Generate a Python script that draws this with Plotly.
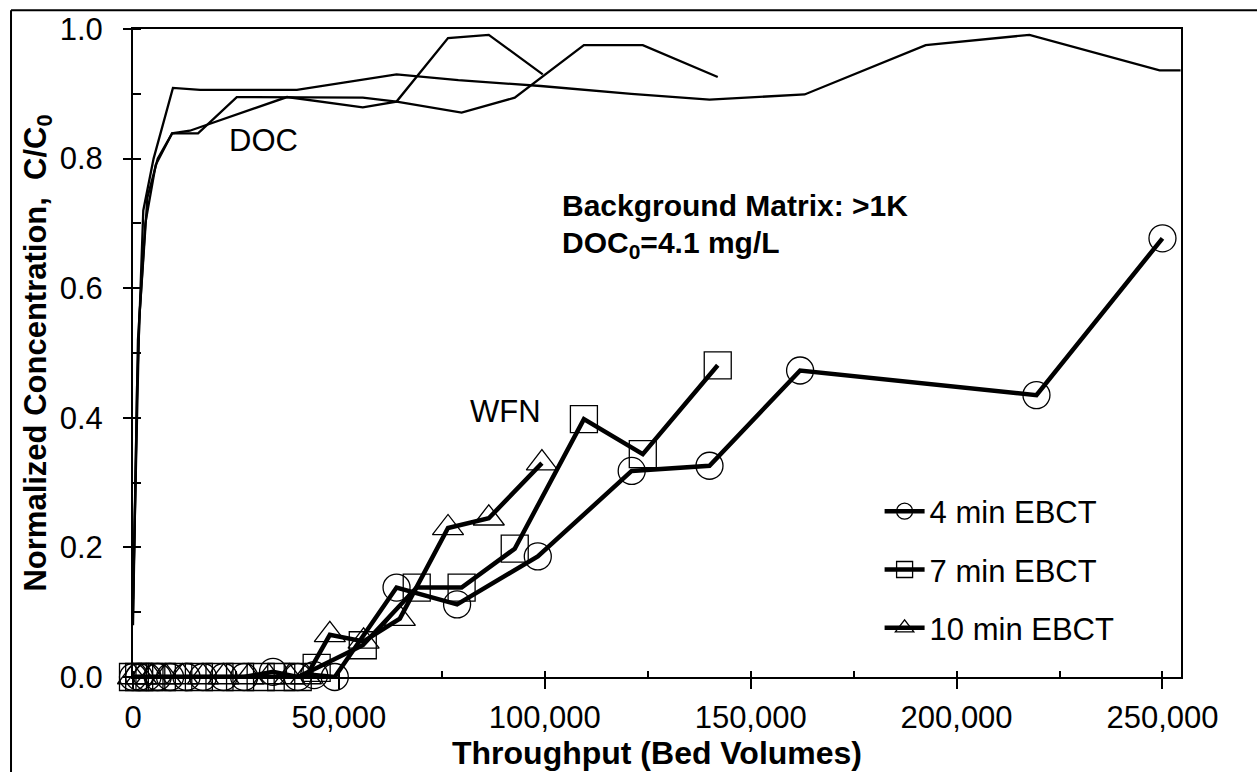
import plotly.graph_objects as go

# ---- WFN breakthrough (C/C0) for three empty-bed contact times ----
x_4min = [0, 1500, 3500, 6000, 9000, 13000, 17000, 22000, 27000, 34000, 40000, 44000, 49000,
          64000, 78700, 98300, 121100, 140000, 162000, 219400, 250000]
y_4min = [0, 0, 0, 0, 0, 0, 0, 0, 0, 0.008, 0, 0.003, 0,
          0.138, 0.112, 0.186, 0.318, 0.326, 0.473, 0.435, 0.677]

x_7min = [0, 1500, 4000, 7000, 11000, 16000, 21000, 26000, 31000, 36000, 40000, 44600,
          55800, 68900, 79800, 92700, 109500, 123800, 142000]
y_7min = [0, 0, 0, 0, 0, 0, 0, 0, 0, 0, 0, 0.014,
          0.049, 0.138, 0.138, 0.198, 0.398, 0.344, 0.481]

x_10min = [0, 2000, 4500, 8000, 12000, 17000, 22000, 28000, 33000, 38000, 42000,
           47800, 56000, 64800, 76500, 86400, 99300]
y_10min = [0, 0, 0, 0, 0, 0, 0, 0, 0, 0, 0,
           0.065, 0.055, 0.09, 0.23, 0.245, 0.33]

# ---- DOC breakthrough for the same columns ----
doc_x_4min = [0, 1000, 2500, 5000, 9700, 16300, 39800, 64000, 79000, 99000, 121000, 140000,
              163100, 192500, 217700, 249300, 254400]
doc_y_4min = [0.08, 0.45, 0.72, 0.80, 0.909, 0.906, 0.906, 0.930, 0.921, 0.912, 0.90, 0.891,
              0.899, 0.975, 0.991, 0.936, 0.936]

doc_x_7min = [0, 1200, 3000, 5500, 9500, 15800, 25200, 55800, 64000, 79800, 92700, 109500,
              123800, 142000]
doc_y_7min = [0.10, 0.52, 0.70, 0.79, 0.839, 0.839, 0.895, 0.894, 0.888, 0.871, 0.894, 0.975,
              0.975, 0.926]

doc_x_10min = [0, 1500, 3500, 6000, 9500, 13800, 37400, 55800, 64000, 76500, 86400, 99500]
doc_y_10min = [0.12, 0.55, 0.74, 0.80, 0.839, 0.843, 0.895, 0.879, 0.888, 0.986, 0.991, 0.930]

series_names = ["4 min EBCT", "7 min EBCT", "10 min EBCT"]
symbols = ["circle-open", "square-open", "triangle-up-open"]

FONT = "Liberation Sans, Arial, sans-serif"
BLACK = "black"
FS = 31

fig = go.Figure()

# thin DOC curves (no legend entries)
for dx, dy in [(doc_x_4min, doc_y_4min), (doc_x_7min, doc_y_7min), (doc_x_10min, doc_y_10min)]:
    fig.add_trace(go.Scatter(
        x=dx, y=dy, mode="lines", line=dict(color=BLACK, width=2.3),
        showlegend=False, hoverinfo="skip", cliponaxis=False))

# thick WFN curves with open markers
for name, sym, wx, wy in zip(series_names, symbols,
                             [x_4min, x_7min, x_10min], [y_4min, y_7min, y_10min]):
    fig.add_trace(go.Scatter(
        x=wx, y=wy, mode="lines+markers", name=name, legendgroup=name,
        line=dict(color=BLACK, width=4.5),
        marker=dict(symbol=sym, size=27, color=BLACK, line=dict(color=BLACK, width=1.3)),
        cliponaxis=False))

axis_common = dict(showgrid=False, zeroline=False, showline=True, linecolor=BLACK,
                   linewidth=2, mirror=True, tickcolor=BLACK, tickwidth=2,
                   tickfont=dict(family=FONT, size=FS, color=BLACK))

fig.update_layout(
    width=1257, height=772,
    margin=dict(l=133, r=76, t=26, b=95),
    paper_bgcolor="white", plot_bgcolor="white",
    font=dict(family=FONT, color=BLACK),
    xaxis=dict(range=[0, 254500], dtick=50000, tickformat=",", ticks="outside", ticklen=10,
               ticklabelstandoff=2,
               minor=dict(ticks="inside", dtick=25000, ticklen=6, tickwidth=2, tickcolor=BLACK),
               title=dict(text="<b>Throughput (Bed Volumes)</b>",
                          font=dict(family=FONT, size=32, color=BLACK), standoff=2),
               **axis_common),
    yaxis=dict(range=[0, 1], dtick=0.2, tickformat=".1f", ticks="outside", ticklen=8,
               ticklabelstandoff=14,
               minor=dict(ticks="inside", dtick=0.1, ticklen=8, tickwidth=2, tickcolor=BLACK),
               title=dict(text="<b>Normalized Concentration,&nbsp; C/C<sub>0</sub></b>",
                          font=dict(family=FONT, size=31, color=BLACK), standoff=4),
               **axis_common),
    # companion axes supply the inner half of the crossing major ticks
    xaxis2=dict(overlaying="x", anchor="y", side="bottom", range=[0, 254500], dtick=50000,
                ticks="inside", ticklen=9, tickwidth=2, tickcolor=BLACK,
                showticklabels=False, showgrid=False, zeroline=False, showline=False),
    yaxis2=dict(overlaying="y", anchor="x", side="left", range=[0, 1], dtick=0.2,
                ticks="inside", ticklen=8, tickwidth=2, tickcolor=BLACK,
                showticklabels=False, showgrid=False, zeroline=False, showline=False),
    legend=dict(x=0.7124, y=0.297, xanchor="left", yanchor="top", bgcolor="rgba(0,0,0,0)",
                font=dict(family=FONT, size=FS, color=BLACK), tracegroupgap=15,
                itemwidth=40),
    showlegend=True,
)

annotations = [
    dict(x=22800, y=0.828, text="DOC", size=FS),
    dict(x=81300, y=0.409, text="WFN", size=FS),
    dict(x=103600, y=0.727, text="<b>Background Matrix: >1K</b>", size=30),
    dict(x=103600, y=0.668, text="<b>DOC<sub>0</sub>=4.1 mg/L</b>", size=30),
]
for a in annotations:
    fig.add_annotation(x=a["x"], y=a["y"], xref="x", yref="y", text=a["text"],
                       showarrow=False, xanchor="left", yanchor="middle",
                       font=dict(family=FONT, size=a["size"], color=BLACK))

# outer frame around the figure
fig.add_shape(type="line", xref="paper", yref="paper", x0=-0.1164, x1=1.2, y0=1.029, y1=1.029,
              line=dict(color=BLACK, width=2))
fig.add_shape(type="line", xref="paper", yref="paper", x0=-0.1164, x1=-0.1164, y0=1.029, y1=-0.2,
              line=dict(color=BLACK, width=2))

fig.write_html("out.html")
